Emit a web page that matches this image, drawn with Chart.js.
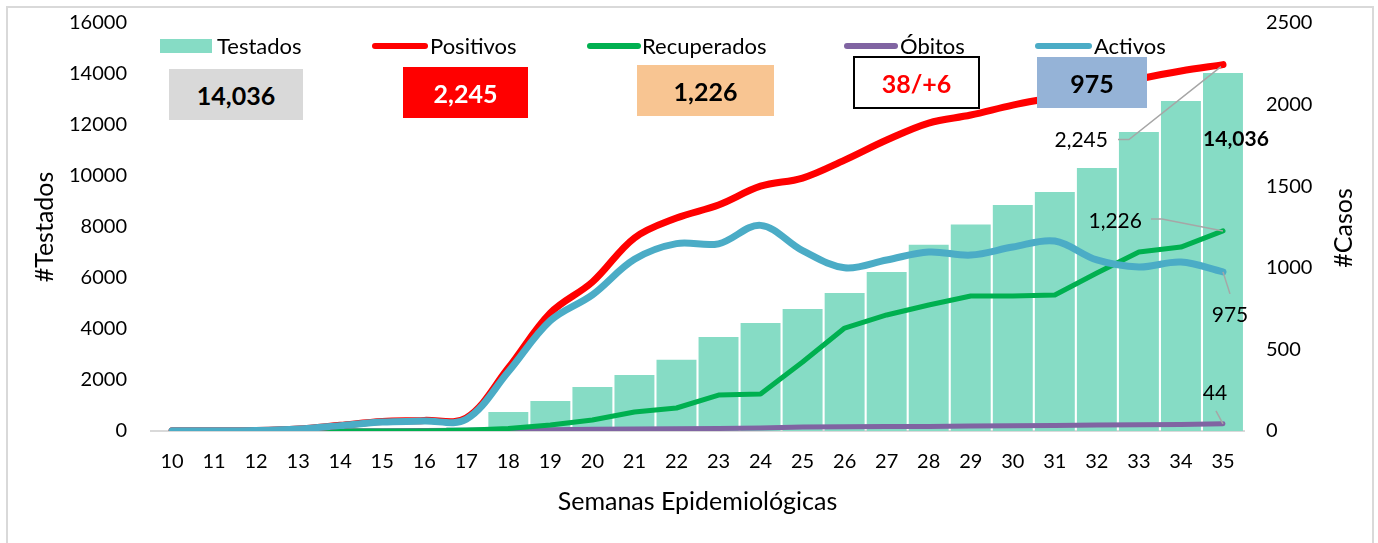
<!DOCTYPE html>
<html>
<head>
<meta charset="utf-8">
<script src="https://cdn.jsdelivr.net/npm/chart.js@4/dist/chart.umd.min.js"></script>
<style>
  html, body { margin:0; padding:0; background:#fff; }
  #wrap { position:relative; width:1378px; height:543px; overflow:hidden; font-family:Lato, "Liberation Sans", sans-serif; color:#000; }
  #c { position:absolute; left:0; top:0; }
  .frame { position:absolute; left:6px; top:6px; width:1368px; height:560px; border:2px solid #d9d9d9; box-sizing:border-box; }
  .leg { position:absolute; top:34px; height:24px; line-height:24px; font-size:22px; white-space:nowrap; }
  .sw { position:absolute; }
  .box { position:absolute; display:flex; align-items:center; justify-content:center; font-weight:bold; font-size:25px; box-sizing:border-box; }
  .ytitle { position:absolute; font-size:25px; white-space:nowrap; transform:translate(-50%,-50%) rotate(-90deg); }
</style>
</head>
<body>
<div id="wrap">
  <canvas id="c" width="1378" height="543"></canvas>
  <div class="frame"></div>

  <div class="sw" style="left:160px;top:39px;width:52px;height:14px;background:#86dcc5"></div>
  <div class="leg" style="left:217px">Testados</div>
  <div class="sw" style="left:372px;top:43px;width:56px;height:6px;border-radius:3px;background:#ff0000"></div>
  <div class="leg" style="left:430px">Positivos</div>
  <div class="sw" style="left:587px;top:43px;width:54px;height:6px;border-radius:3px;background:#00b050"></div>
  <div class="leg" style="left:642px">Recuperados</div>
  <div class="sw" style="left:844px;top:43px;width:54px;height:6px;border-radius:3px;background:#8064a2"></div>
  <div class="leg" style="left:900px">Óbitos</div>
  <div class="sw" style="left:1035px;top:43px;width:57px;height:6px;border-radius:3px;background:#4bacc6"></div>
  <div class="leg" style="left:1094px">Activos</div>

  <div class="box" style="left:169px;top:69px;width:134px;height:51px;background:#d9d9d9;color:#000">14,036</div>
  <div class="box" style="left:403px;top:67px;width:125px;height:51px;background:#ff0000;color:#fff">2,245</div>
  <div class="box" style="left:637px;top:65px;width:137px;height:51px;background:#f8c592;color:#000">1,226</div>
  <div class="box" style="left:853px;top:56px;width:127px;height:53px;background:#fff;border:2px solid #000;color:#ff0000">38/+6</div>
  <div class="box" style="left:1037px;top:57px;width:110px;height:51px;background:#95b3d7;color:#000">975</div>

  <div class="ytitle" style="left:1342px;top:228px">#Casos</div>
</div>
<script>
const weeks = ['10','11','12','13','14','15','16','17','18','19','20','21','22','23','24','25','26','27','28','29','30','31','32','33','34','35'];
const testados = [0,0,0,0,0,0,0,150,750,1180,1730,2200,2790,3690,4240,4780,5410,6240,7300,8100,8860,9370,10310,11730,12940,14036];
const positivos = [1,2,3,12,35,58,65,80,386,723,913,1183,1305,1385,1500,1550,1660,1783,1887,1936,1997,2046,2100,2157,2206,2245];
const recuperados = [0,0,0,0,0,0,0,5,15,37,67,116,141,220,227,423,631,711,772,827,827,833,968,1097,1127,1226];
const obitos = [0,0,0,0,1,2,3,4,6,8,10,12,14,16,18,24,26,27,28,30,32,34,36,38,40,44];
const activos = [1,2,3,12,33,55,61,72,363,676,834,1052,1148,1147,1260,1105,1000,1048,1097,1078,1127,1164,1048,1005,1035,975];
const leftTicks = [0,2000,4000,6000,8000,10000,12000,14000,16000];
const rightTicks = [0,500,1000,1500,2000,2500];

const FONT = 'Lato';
const fmt = v => v.toLocaleString('en-US');

const endLabels = {
  id: 'endLabels',
  afterDatasetsDraw(chart) {
    const {ctx, scales: {x, y, y1}} = chart;
    const n = weeks.length - 1;
    const px = x.getPixelForValue(n);
    const pP = y1.getPixelForValue(positivos[n]);
    const pR = y1.getPixelForValue(recuperados[n]);
    const pA = y1.getPixelForValue(activos[n]);
    const pO = y1.getPixelForValue(obitos[n]);
    const pT = y.getPixelForValue(testados[n]);
    ctx.save();
    ctx.strokeStyle = '#a6a6a6';
    ctx.lineWidth = 1.5;
    const line = pts => { ctx.beginPath(); ctx.moveTo(pts[0][0], pts[0][1]); for (let i = 1; i < pts.length; i++) ctx.lineTo(pts[i][0], pts[i][1]); ctx.stroke(); };
    line([[px-105, pP+75],[px-94, pP+75],[px-2, pP+2]]);
    line([[px-72, pR-12],[px-61, pR-12],[px, pR]]);
    line([[px, pA],[px+7, pA+22]]);
    line([[px-7, pO-13],[px, pO]]);
    ctx.fillStyle = '#000';
    ctx.textBaseline = 'middle';
    ctx.font = '21px ' + FONT;
    ctx.textAlign = 'right';
    ctx.fillText(fmt(positivos[n]), px-115, pP+76);
    ctx.fillText(fmt(recuperados[n]), px-81, pR-10);
    ctx.textAlign = 'center';
    ctx.fillText(fmt(activos[n]), px+7, pA+43);
    ctx.fillText(fmt(obitos[n]), px-8, pO-31);
    ctx.font = 'bold 21px ' + FONT;
    ctx.fillText(fmt(testados[n]), px+13, pT+66);
    ctx.restore();
  }
};

function draw() {
  Chart.defaults.color = '#000';
  Chart.defaults.font.family = FONT;
  new Chart(document.getElementById('c'), {
    data: {
      labels: weeks,
      datasets: [
        {type:'bar', label:'Testados', data:testados, yAxisID:'y', backgroundColor:'#86dcc5', order:10, barPercentage:0.95, categoryPercentage:1},
        {type:'line', label:'Óbitos', data:obitos, yAxisID:'y1', borderColor:'#8064a2', borderWidth:5, tension:0, pointRadius:0, order:4, borderCapStyle:'round', borderJoinStyle:'round'},
        {type:'line', label:'Recuperados', data:recuperados, yAxisID:'y1', borderColor:'#00b050', borderWidth:5, tension:0, pointRadius:0, order:3, borderCapStyle:'round', borderJoinStyle:'round'},
        {type:'line', label:'Positivos', data:positivos, yAxisID:'y1', borderColor:'#ff0000', borderWidth:7, tension:0.35, pointRadius:0, order:2, borderCapStyle:'round', borderJoinStyle:'round'},
        {type:'line', label:'Activos', data:activos, yAxisID:'y1', borderColor:'#4bacc6', borderWidth:7, tension:0.35, pointRadius:0, order:1, borderCapStyle:'round', borderJoinStyle:'round'}
      ]
    },
    options: {
      responsive: false,
      animation: false,
      layout: { padding: { top: 23, left: 0, right: 0, bottom: 0 } },
      plugins: { legend: { display: false }, tooltip: { enabled: false } },
      scales: {
        x: {
          grid: { display: false },
          border: { display: true, color: '#d9d9d9', width: 2 },
          ticks: { font: { size: 20 }, padding: 11, maxRotation: 0, autoSkip: false },
          title: { display: true, text: 'Semanas Epidemiológicas', font: { size: 25 }, padding: { top: 0, bottom: 26 } },
          afterFit(s) { s.height = 112; s.paddingLeft = 0; s.paddingRight = 0; }
        },
        y: {
          position: 'left', min: 0, max: 16000,
          grid: { display: false }, border: { display: false },
          afterBuildTicks(s) { s.ticks = leftTicks.map(v => ({ value: v })); },
          ticks: { font: { size: 20 }, padding: 16, callback: v => String(v) },
          title: { display: true, text: '#Testados', font: { size: 25 }, padding: { top: 30, bottom: 0 } },
          afterFit(s) { s.width = 151; s.paddingTop = 0; s.paddingBottom = 0; }
        },
        y1: {
          position: 'right', min: 0, max: 2500,
          grid: { display: false }, border: { display: false },
          afterBuildTicks(s) { s.ticks = rightTicks.map(v => ({ value: v })); },
          ticks: { font: { size: 20 }, padding: 14, callback: v => String(v) },
          afterFit(s) { s.width = 134; s.paddingTop = 0; s.paddingBottom = 0; }
        }
      }
    },
    plugins: [endLabels]
  });
}
const fl = document.fonts && document.fonts.load ? Promise.all([document.fonts.load('20px Lato'), document.fonts.load('bold 20px Lato')]).catch(()=>{}) : Promise.resolve();
fl.then(draw, draw);
</script>
</body>
</html>
